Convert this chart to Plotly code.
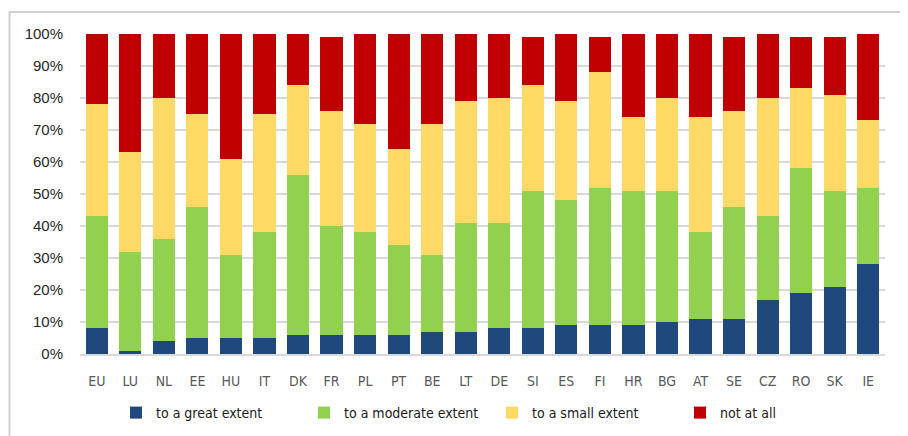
import plotly.graph_objects as go

countries = ["EU", "LU", "NL", "EE", "HU", "IT", "DK", "FR", "PL", "PT", "BE", "LT",
             "DE", "SI", "ES", "FI", "HR", "BG", "AT", "SE", "CZ", "RO", "SK", "IE"]
great = [8, 1, 4, 5, 5, 5, 6, 6, 6, 6, 7, 7, 8, 8, 9, 9, 9, 10, 11, 11, 17, 19, 21, 28]
moderate = [35, 31, 32, 41, 26, 33, 50, 34, 32, 28, 24, 34, 33, 43, 39, 43, 42, 41, 27, 35, 26, 39, 30, 24]
small = [35, 31, 44, 29, 30, 37, 28, 36, 34, 30, 41, 38, 39, 33, 31, 36, 23, 29, 36, 30, 37, 25, 30, 21]
not_at_all = [22, 37, 20, 25, 39, 25, 16, 23, 28, 36, 28, 21, 20, 15, 21, 11, 26, 20, 26, 23, 20, 16, 18, 27]

series_names = ["to a great extent", "to a moderate extent", "to a small extent", "not at all"]
series_values = [great, moderate, small, not_at_all]
colors = ["#1F497D", "#92D050", "#FFD966", "#C00000"]
y_ticks = [0, 10, 20, 30, 40, 50, 60, 70, 80, 90, 100]
y_tick_labels = [f"{v}%" for v in y_ticks]

# page body has an 8px margin, so the figure is 8px smaller and offset
W, H = 900, 428
ML, MR, MT, MB = 72, 23, 26, 82

fig = go.Figure()
for name, vals, col in zip(series_names, series_values, colors):
    fig.add_trace(go.Bar(
        x=countries, y=vals, name=name,
        marker=dict(color=col, line=dict(width=0)),
    ))

pw = W - ML - MR
ph = H - MT - MB

def px_to_paper_x(px):
    return (px - ML) / pw

def py_to_paper_y(py):
    return (H - MB - py) / ph

# outer frame (top and left edges visible)
fig.add_shape(type="path", xref="paper", yref="paper",
              path=f"M {px_to_paper_x(1.5)} {py_to_paper_y(440)} L {px_to_paper_x(1.5)} {py_to_paper_y(4)} L {px_to_paper_x(910)} {py_to_paper_y(4)}",
              line=dict(color="#D0D0D0", width=2), layer="above")

fig.update_layout(
    width=W, height=H,
    barmode="stack", bargap=0.34,
    plot_bgcolor="white", paper_bgcolor="white",
    margin=dict(l=ML, r=MR, t=MT, b=MB, autoexpand=False),
    xaxis=dict(
        tickfont=dict(family="DejaVu Sans Condensed, Roboto", size=14, color="#595959"),
        showline=True, linecolor="#D9D9D9", linewidth=1.5,
        ticks="", showgrid=False, automargin=False, ticklabelstandoff=13,
    ),
    yaxis=dict(
        range=[0, 100], tickvals=y_ticks, ticktext=y_tick_labels,
        tickfont=dict(family="Liberation Sans, Arial", size=15, color="#262626"),
        showgrid=True, gridcolor="#D9D9D9", gridwidth=1.5,
        zeroline=False, showline=False, ticks="", ticklabelstandoff=16,
        automargin=False,
    ),
    legend=dict(
        orientation="h", x=px_to_paper_x(108), xanchor="left",
        y=py_to_paper_y(389), yanchor="top",
        font=dict(family="DejaVu Sans Condensed, Roboto", size=14, color="#1a1a1a"),
        entrywidth=143, entrywidthmode="pixels",
        itemwidth=30, traceorder="normal",
    ),
    font=dict(family="Liberation Sans"),
)

fig.write_html("out.html")
